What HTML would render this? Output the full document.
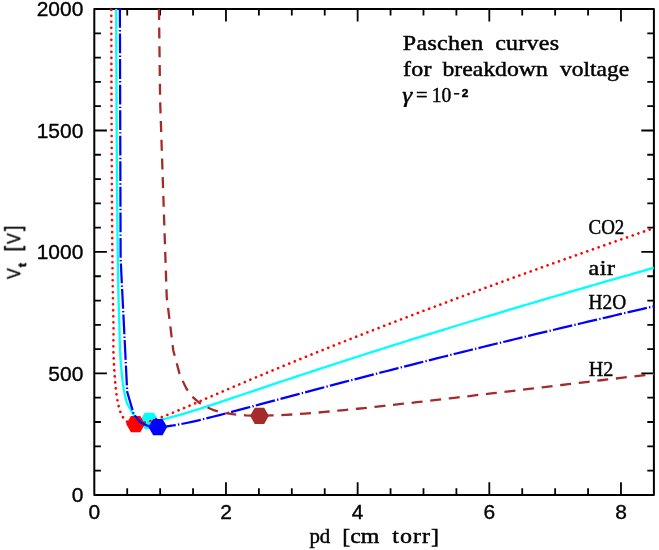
<!DOCTYPE html>
<html><head><meta charset="utf-8"><title>Paschen curves</title>
<style>html,body{margin:0;padding:0;background:#fff}svg{display:block}</style></head>
<body><svg width="659" height="550" viewBox="0 0 659 550">
<rect width="659" height="550" fill="#fff"/>
<defs><clipPath id="c"><rect x="93.3" y="8.0" width="561.6" height="487.9"/></clipPath></defs>
<rect x="94.3" y="9.0" width="559.60" height="485.90" fill="none" stroke="#000" stroke-width="2.0" stroke-linejoin="round"/>
<path d="M127.22,494.9 v-6.6 M127.22,9.0 v6.6 M160.14,494.9 v-6.6 M160.14,9.0 v6.6 M193.05,494.9 v-6.6 M193.05,9.0 v6.6 M225.97,494.9 v-12.6 M225.97,9.0 v12.6 M258.89,494.9 v-6.6 M258.89,9.0 v6.6 M291.81,494.9 v-6.6 M291.81,9.0 v6.6 M324.72,494.9 v-6.6 M324.72,9.0 v6.6 M357.64,494.9 v-12.6 M357.64,9.0 v12.6 M390.56,494.9 v-6.6 M390.56,9.0 v6.6 M423.48,494.9 v-6.6 M423.48,9.0 v6.6 M456.39,494.9 v-6.6 M456.39,9.0 v6.6 M489.31,494.9 v-12.6 M489.31,9.0 v12.6 M522.23,494.9 v-6.6 M522.23,9.0 v6.6 M555.15,494.9 v-6.6 M555.15,9.0 v6.6 M588.06,494.9 v-6.6 M588.06,9.0 v6.6 M620.98,494.9 v-12.6 M620.98,9.0 v12.6 M94.3,470.60 h6.6 M653.9,470.60 h-6.6 M94.3,446.31 h6.6 M653.9,446.31 h-6.6 M94.3,422.01 h6.6 M653.9,422.01 h-6.6 M94.3,397.72 h6.6 M653.9,397.72 h-6.6 M94.3,373.42 h12.6 M653.9,373.42 h-12.6 M94.3,349.13 h6.6 M653.9,349.13 h-6.6 M94.3,324.84 h6.6 M653.9,324.84 h-6.6 M94.3,300.54 h6.6 M653.9,300.54 h-6.6 M94.3,276.25 h6.6 M653.9,276.25 h-6.6 M94.3,251.95 h12.6 M653.9,251.95 h-12.6 M94.3,227.65 h6.6 M653.9,227.65 h-6.6 M94.3,203.36 h6.6 M653.9,203.36 h-6.6 M94.3,179.06 h6.6 M653.9,179.06 h-6.6 M94.3,154.77 h6.6 M653.9,154.77 h-6.6 M94.3,130.48 h12.6 M653.9,130.48 h-12.6 M94.3,106.18 h6.6 M653.9,106.18 h-6.6 M94.3,81.88 h6.6 M653.9,81.88 h-6.6 M94.3,57.59 h6.6 M653.9,57.59 h-6.6 M94.3,33.30 h6.6 M653.9,33.30 h-6.6" stroke="#000" stroke-width="1.8" fill="none"/>
<g clip-path="url(#c)" fill="none" stroke-linejoin="round">
<path d="M116.20,9.00 L116.23,18.95 L116.26,28.46 L116.29,37.57 L116.31,46.29 L116.34,54.65 L116.37,62.67 L116.40,70.38 L116.43,77.78 L116.46,84.91 L116.49,91.76 L116.51,98.37 L116.54,104.74 L116.57,110.88 L116.60,116.80 L116.63,122.53 L116.66,128.06 L116.69,133.41 L116.71,138.58 L116.74,143.59 L116.77,148.44 L116.80,153.14 L116.83,157.70 L116.86,162.12 L116.88,166.40 L116.91,170.57 L116.94,174.61 L116.97,178.54 L117.00,182.35 L117.03,186.06 L117.06,189.67 L117.08,193.19 L117.11,196.61 L117.14,199.93 L117.17,203.18 L117.20,206.34 L117.23,209.42 L117.26,212.42 L117.28,215.35 L117.31,218.21 L117.34,221.00 L117.37,223.72 L117.40,226.38 L117.43,228.98 L117.46,231.52 L117.48,234.00 L117.51,236.42 L117.54,238.79 L117.57,241.11 L117.60,243.38 L117.63,245.60 L117.66,247.77 L117.68,249.90 L117.71,251.98 L117.74,254.02 L117.77,256.01 L117.80,257.97 L117.83,259.89 L117.86,261.77 L117.88,263.61 L117.91,265.42 L117.94,267.19 L117.97,268.93 L118.00,270.63 L118.03,272.30 L118.06,273.95 L118.08,275.56 L118.11,277.14 L118.14,278.69 L118.17,280.22 L118.20,281.72 L118.23,283.19 L118.25,284.64 L118.28,286.06 L118.31,287.46 L118.34,288.83 L118.37,290.18 L118.40,291.51 L118.43,292.81 L118.45,294.09 L118.48,295.36 L118.51,296.60 L118.54,297.82 L118.57,299.02 L118.60,300.21 L118.63,301.37 L118.65,302.52 L118.68,303.65 L118.71,304.76 L118.74,305.85 L118.77,306.93 L118.80,307.99 L118.83,309.04 L118.85,310.07 L118.88,311.08 L118.91,312.08 L118.94,313.07 L118.97,314.04 L119.00,315.00 L119.03,315.94 L119.05,316.87 L119.08,317.79 L119.11,318.69 L119.14,319.59 L119.17,320.46 L119.20,321.33 L119.23,322.19 L119.25,323.03 L119.28,323.87 L119.31,324.69 L119.34,325.50 L119.37,326.30 L119.40,327.09 L119.43,327.87 L119.45,328.64 L119.48,329.40 L119.50,330.15 L119.51,330.89 L119.53,331.62 L119.54,332.34 L119.56,333.05 L119.57,333.75 L119.58,334.45 L119.60,335.14 L119.61,335.81 L119.63,336.48 L119.64,337.15 L119.66,337.80 L119.67,338.45 L119.69,339.09 L119.70,339.72 L119.72,340.34 L119.74,340.96 L119.75,341.57 L119.77,342.17 L119.78,342.76 L119.80,343.35 L119.82,343.93 L119.83,344.51 L119.85,345.08 L119.87,345.64 L119.88,346.20 L119.90,346.74 L119.92,347.29 L119.94,347.83 L119.95,348.36 L119.97,348.89 L120.00,349.41 L120.02,349.92 L120.05,350.43 L120.08,350.93 L120.11,351.43 L120.14,351.93 L120.17,352.41 L120.20,352.90 L120.22,353.38 L120.25,353.85 L120.28,354.32 L120.31,354.78 L120.34,355.24 L120.37,355.69 L120.40,356.14 L120.42,356.59 L120.45,357.03 L120.48,357.47 L120.51,357.90 L120.54,358.33 L120.57,358.75 L120.60,359.17 L120.62,359.58 L120.65,360.00 L120.68,360.40 L120.71,360.81 L120.74,361.21 L120.77,361.60 L120.80,361.99 L120.82,362.38 L120.85,362.77 L120.88,363.15 L120.91,363.52 L120.94,363.90 L120.97,364.27 L120.99,364.64 L121.02,365.00 L121.05,365.36 L121.08,365.72 L121.11,366.07 L121.14,366.42 L121.17,366.77 L121.19,367.11 L121.22,367.45 L121.25,367.79 L121.28,368.13 L121.31,368.46 L121.34,368.79 L121.37,369.12 L121.39,369.44 L121.42,369.76 L121.45,370.08 L121.48,370.39 L121.51,370.71 L121.54,371.02 L121.57,371.32 L121.59,371.63 L121.62,371.93 L121.65,372.23 L121.68,372.53 L121.71,372.82 L121.74,373.11 L121.77,373.40 L121.79,373.69 L121.82,373.98 L121.85,374.26 L121.88,374.54 L121.91,374.82 L121.94,375.09 L121.97,375.36 L121.99,375.64 L122.02,375.90 L122.05,376.17 L122.08,376.44 L122.11,376.70 L122.14,376.96 L122.17,377.22 L122.19,377.47 L122.22,377.73 L122.25,377.98 L122.28,378.23 L122.31,378.48 L122.34,378.73 L122.37,378.97 L122.39,379.21 L122.42,379.45 L122.45,379.69 L122.48,379.93 L122.51,380.17 L122.54,380.40 L122.56,380.63 L122.59,380.86 L122.62,381.09 L122.65,381.32 L122.68,381.54 L122.71,381.77 L122.74,381.99 L122.76,382.21 L122.79,382.43 L122.82,382.64 L122.85,382.86 L122.88,383.07 L122.91,383.28 L122.94,383.49 L122.96,383.70 L122.99,383.91 L123.02,384.12 L123.05,384.32 L123.08,384.52 L123.11,384.72 L123.14,384.92 L123.16,385.12 L123.19,385.32 L123.22,385.52 L123.25,385.71 L123.28,385.90 L123.31,386.10 L123.34,386.29 L123.36,386.48 L123.39,386.66 L123.42,386.85 L123.45,387.03 L123.48,387.22 L123.51,387.40 L123.54,387.58 L123.56,387.76 L123.59,387.94 L123.62,388.12 L123.65,388.30 L123.68,388.47 L123.71,388.65 L123.74,388.82 L123.76,388.99 L123.79,389.16 L123.82,389.33 L123.85,389.50 L123.88,389.67 L123.91,389.83 L123.94,390.00 L123.96,390.16 L123.99,390.32 L124.02,390.49 L124.05,390.65 L124.08,390.81 L124.11,390.96 L124.13,391.12 L124.16,391.28 L124.19,391.43 L124.22,391.59 L124.25,391.74 L124.28,391.90 L124.31,392.05 L124.33,392.20 L124.36,392.35 L124.39,392.50 L124.42,392.64 L124.45,392.79 L124.48,392.94 L124.51,393.08 L124.53,393.23 L124.56,393.37 L124.59,393.51 L124.62,393.65 L124.65,393.79 L124.68,393.93 L124.71,394.07 L124.73,394.21 L124.76,394.35 L124.79,394.48 L124.82,394.62 L124.85,394.75 L124.88,394.89 L124.91,395.02 L124.93,395.15 L124.96,395.28 L124.99,395.41 L125.02,395.54 L125.05,395.67 L125.08,395.80 L125.11,395.93 L125.13,396.06 L125.16,396.18 L125.19,396.31 L125.22,396.43 L125.25,396.55 L125.28,396.68 L125.31,396.80 L125.33,396.92 L125.36,397.04 L125.39,397.16 L125.42,397.28 L125.45,397.40 L125.48,397.52 L125.50,397.63 L125.53,397.75 L125.56,397.87 L125.59,397.98 L125.62,398.10 L125.65,398.21 L125.68,398.32 L125.70,398.44 L125.73,398.55 L125.76,398.66 L125.79,398.77 L125.82,398.88 L125.85,398.99 L125.88,399.10 L125.90,399.21 L125.93,399.31 L125.96,399.42 L125.99,399.53 L126.02,399.63 L126.05,399.74 L126.08,399.84 L126.10,399.95 L126.13,400.05 L126.16,400.15 L126.19,400.26 L126.22,400.36 L126.25,400.46 L126.28,400.56 L126.30,400.66 L126.33,400.76 L126.36,400.86 L126.39,400.96 L126.42,401.05 L126.45,401.15 L126.48,401.25 L126.50,401.34 L126.53,401.44 L126.56,401.53 L126.59,401.63 L126.62,401.72 L126.65,401.82 L126.68,401.91 L126.70,402.00 L126.73,402.09 L126.76,402.19 L126.79,402.28 L126.82,402.37 L126.85,402.46 L126.88,402.55 L126.90,402.64 L126.93,402.73 L126.96,402.81 L126.99,402.90 L127.02,402.99 L127.05,403.08 L127.07,403.16 L127.10,403.25 L127.13,403.33 L127.16,403.42 L127.19,403.50 L127.22,403.59 L133.80,415.24 L140.38,419.39 L146.97,420.66 L153.55,420.54 L160.14,419.67 L166.72,418.34 L173.30,416.72 L179.89,414.90 L186.47,412.96 L193.05,410.94 L199.64,408.84 L206.22,406.71 L212.80,404.54 L219.39,402.35 L225.97,400.15 L232.55,397.94 L239.14,395.73 L245.72,393.51 L252.30,391.29 L258.89,389.08 L265.47,386.87 L272.06,384.66 L278.64,382.46 L285.22,380.27 L291.81,378.08 L298.39,375.90 L304.97,373.73 L311.56,371.56 L318.14,369.40 L324.72,367.25 L331.31,365.11 L337.89,362.97 L344.47,360.85 L351.06,358.73 L357.64,356.61 L364.22,354.51 L370.81,352.41 L377.39,350.32 L383.98,348.23 L390.56,346.16 L397.14,344.09 L403.73,342.02 L410.31,339.97 L416.89,337.92 L423.48,335.88 L430.06,333.84 L436.64,331.81 L443.23,329.78 L449.81,327.77 L456.39,325.76 L462.98,323.75 L469.56,321.75 L476.14,319.76 L482.73,317.77 L489.31,315.78 L495.90,313.81 L502.48,311.83 L509.06,309.87 L515.65,307.91 L522.23,305.95 L528.81,304.00 L535.40,302.05 L541.98,300.11 L548.56,298.17 L555.15,296.24 L561.73,294.31 L568.31,292.39 L574.90,290.47 L581.48,288.56 L588.06,286.65 L594.65,284.74 L601.23,282.84 L607.82,280.95 L614.40,279.05 L620.98,277.17 L627.57,275.28 L634.15,273.40 L640.73,271.52 L647.32,269.65 L653.90,267.78" stroke="#00ffff" stroke-width="2.3"/>
<polygon points="158.76,420.94 154.06,429.08 144.66,429.08 139.96,420.94 144.66,412.79 154.06,412.79" fill="#00ffff" stroke="none"/>
<path d="M111.28,9.00 L111.32,29.12 L111.37,47.50 L111.41,64.35 L111.45,79.86 L111.49,94.18 L111.53,107.44 L111.58,119.76 L111.62,131.23 L111.66,141.94 L111.70,151.96 L111.74,161.35 L111.79,170.18 L111.83,178.48 L111.87,186.31 L111.91,193.71 L111.96,200.70 L112.00,207.33 L112.04,213.62 L112.08,219.59 L112.12,225.27 L112.17,230.68 L112.21,235.84 L112.25,240.76 L112.29,245.47 L112.33,249.97 L112.38,254.27 L112.42,258.40 L112.46,262.35 L112.50,266.15 L112.54,269.80 L112.59,273.31 L112.63,276.68 L112.67,279.93 L112.71,283.06 L112.75,286.08 L112.80,288.99 L112.84,291.80 L112.88,294.51 L112.92,297.13 L112.97,299.67 L113.01,302.12 L113.05,304.49 L113.09,306.79 L113.13,309.02 L113.18,311.18 L113.22,313.28 L113.26,315.31 L113.30,317.28 L113.34,319.19 L113.39,321.06 L113.43,322.86 L113.47,324.62 L113.51,326.33 L113.55,328.00 L113.60,329.62 L113.57,331.19 L113.54,332.73 L113.51,334.22 L113.49,335.68 L113.46,337.10 L113.44,338.49 L113.42,339.84 L113.40,341.16 L113.38,342.45 L113.37,343.70 L113.35,344.93 L113.34,346.13 L113.33,347.30 L113.32,348.45 L113.33,349.56 L113.37,350.66 L113.41,351.73 L113.45,352.78 L113.50,353.80 L113.54,354.80 L113.58,355.78 L113.62,356.74 L113.66,357.68 L113.71,358.60 L113.75,359.51 L113.79,360.39 L113.83,361.26 L113.88,362.11 L113.92,362.94 L113.96,363.76 L114.00,364.56 L114.04,365.34 L114.09,366.11 L114.13,366.87 L114.17,367.61 L114.21,368.34 L114.25,369.05 L114.30,369.75 L114.34,370.44 L114.38,371.12 L114.42,371.78 L114.46,372.44 L114.51,373.08 L114.55,373.71 L114.59,374.33 L114.63,374.94 L114.67,375.54 L114.72,376.12 L114.76,376.70 L114.80,377.27 L114.84,377.83 L114.89,378.38 L114.93,378.92 L114.97,379.46 L115.01,379.98 L115.05,380.50 L115.10,381.00 L115.14,381.50 L115.18,382.00 L115.22,382.48 L115.26,382.96 L115.31,383.43 L115.35,383.89 L115.39,384.34 L115.43,384.79 L115.47,385.23 L115.52,385.67 L115.56,386.10 L115.60,386.52 L115.64,386.94 L115.68,387.35 L115.73,387.75 L115.77,388.15 L115.81,388.54 L115.85,388.93 L115.90,389.31 L115.94,389.69 L115.98,390.06 L116.02,390.43 L116.06,390.79 L116.11,391.15 L116.15,391.50 L116.19,391.84 L116.23,392.19 L116.27,392.52 L116.32,392.86 L116.36,393.18 L116.40,393.51 L116.44,393.83 L116.48,394.14 L116.53,394.46 L116.57,394.76 L116.61,395.07 L116.65,395.37 L116.70,395.66 L116.74,395.96 L116.78,396.24 L116.82,396.53 L116.86,396.81 L116.91,397.09 L116.95,397.36 L116.99,397.63 L117.03,397.90 L117.07,398.17 L117.12,398.43 L117.16,398.68 L117.20,398.94 L117.24,399.19 L117.28,399.44 L117.33,399.69 L117.37,399.93 L117.41,400.17 L117.45,400.41 L117.49,400.64 L117.54,400.87 L117.58,401.10 L117.62,401.33 L117.66,401.55 L117.71,401.77 L117.75,401.99 L117.79,402.21 L117.83,402.42 L117.87,402.63 L117.92,402.84 L117.96,403.05 L118.00,403.25 L118.04,403.46 L118.08,403.66 L118.13,403.85 L118.17,404.05 L118.21,404.24 L118.25,404.43 L118.29,404.62 L118.34,404.81 L118.38,404.99 L118.42,405.18 L118.46,405.36 L118.51,405.54 L118.55,405.72 L118.59,405.89 L118.63,406.06 L118.67,406.24 L118.72,406.41 L118.76,406.57 L118.80,406.74 L118.84,406.90 L118.88,407.07 L118.93,407.23 L118.97,407.39 L119.01,407.55 L119.05,407.70 L119.09,407.86 L119.14,408.01 L119.18,408.16 L119.22,408.31 L119.26,408.46 L119.30,408.61 L119.35,408.75 L119.39,408.90 L119.43,409.04 L119.47,409.18 L119.52,409.32 L119.56,409.46 L119.60,409.60 L119.64,409.73 L119.68,409.87 L119.73,410.00 L119.77,410.13 L119.81,410.26 L119.85,410.39 L119.89,410.52 L119.94,410.64 L119.98,410.77 L120.02,410.89 L120.06,411.02 L120.10,411.14 L120.15,411.26 L120.19,411.38 L120.23,411.50 L120.27,411.62 L120.31,411.73 L120.36,411.85 L120.40,411.96 L120.44,412.07 L120.48,412.19 L120.53,412.30 L120.57,412.41 L120.61,412.51 L120.65,412.62 L120.69,412.73 L120.74,412.83 L120.78,412.94 L120.82,413.04 L120.86,413.15 L120.90,413.25 L120.95,413.35 L120.99,413.45 L121.03,413.55 L121.07,413.65 L121.11,413.74 L121.16,413.84 L121.20,413.93 L121.24,414.03 L121.28,414.12 L121.33,414.22 L121.37,414.31 L121.41,414.40 L121.45,414.49 L121.49,414.58 L121.54,414.67 L121.58,414.76 L121.62,414.84 L121.66,414.93 L121.70,415.02 L121.75,415.10 L121.79,415.18 L121.83,415.27 L121.87,415.35 L121.91,415.43 L121.96,415.51 L122.00,415.59 L122.04,415.67 L122.08,415.75 L122.12,415.83 L122.17,415.91 L122.21,415.99 L122.25,416.06 L122.29,416.14 L122.34,416.21 L122.38,416.29 L122.42,416.36 L122.46,416.43 L122.50,416.51 L122.55,416.58 L122.59,416.65 L122.63,416.72 L122.67,416.79 L122.71,416.86 L122.76,416.93 L122.80,417.00 L122.84,417.06 L122.88,417.13 L122.92,417.20 L122.97,417.26 L123.01,417.33 L123.05,417.39 L123.09,417.46 L123.13,417.52 L123.18,417.58 L123.22,417.65 L123.26,417.71 L123.30,417.77 L123.35,417.83 L123.39,417.89 L123.43,417.95 L123.47,418.01 L123.51,418.07 L123.56,418.13 L123.60,418.19 L123.64,418.24 L123.68,418.30 L123.72,418.36 L123.77,418.41 L123.81,418.47 L123.85,418.52 L123.89,418.58 L123.93,418.63 L123.98,418.68 L124.02,418.74 L124.06,418.79 L124.10,418.84 L124.15,418.89 L124.19,418.95 L124.23,419.00 L124.27,419.05 L124.31,419.10 L124.36,419.15 L124.40,419.20 L124.44,419.24 L124.48,419.29 L124.52,419.34 L124.57,419.39 L124.61,419.44 L124.65,419.48 L124.69,419.53 L124.73,419.57 L124.78,419.62 L124.82,419.67 L124.86,419.71 L124.90,419.75 L124.94,419.80 L124.99,419.84 L125.03,419.89 L125.07,419.93 L125.11,419.97 L125.16,420.01 L125.20,420.05 L125.24,420.10 L125.28,420.14 L125.32,420.18 L125.37,420.22 L125.41,420.26 L125.45,420.30 L125.49,420.34 L125.53,420.38 L125.58,420.42 L125.62,420.45 L125.66,420.49 L125.70,420.53 L125.74,420.57 L125.79,420.60 L125.83,420.64 L125.87,420.68 L125.91,420.71 L125.95,420.75 L126.00,420.79 L126.04,420.82 L126.08,420.86 L126.12,420.89 L126.17,420.92 L126.21,420.96 L126.25,420.99 L126.29,421.03 L126.33,421.06 L126.38,421.09 L126.42,421.12 L126.46,421.16 L126.50,421.19 L126.54,421.22 L126.59,421.25 L126.63,421.28 L126.67,421.31 L126.71,421.35 L126.75,421.38 L126.80,421.41 L126.84,421.44 L126.88,421.47 L126.92,421.49 L126.97,421.52 L127.01,421.55 L127.05,421.58 L127.09,421.61 L127.13,421.64 L127.18,421.67 L127.22,421.69 L133.80,423.81 L140.38,423.49 L146.97,422.05 L153.55,420.04 L160.14,417.69 L166.72,415.16 L173.30,412.50 L179.89,409.76 L186.47,406.98 L193.05,404.18 L199.64,401.35 L206.22,398.52 L212.80,395.69 L219.39,392.87 L225.97,390.05 L232.55,387.24 L239.14,384.44 L245.72,381.65 L252.30,378.87 L258.89,376.11 L265.47,373.36 L272.06,370.62 L278.64,367.90 L285.22,365.18 L291.81,362.49 L298.39,359.80 L304.97,357.12 L311.56,354.46 L318.14,351.81 L324.72,349.17 L331.31,346.55 L337.89,343.93 L344.47,341.33 L351.06,338.73 L357.64,336.15 L364.22,333.58 L370.81,331.02 L377.39,328.47 L383.98,325.92 L390.56,323.39 L397.14,320.87 L403.73,318.35 L410.31,315.85 L416.89,313.35 L423.48,310.86 L430.06,308.38 L436.64,305.91 L443.23,303.45 L449.81,300.99 L456.39,298.54 L462.98,296.10 L469.56,293.67 L476.14,291.24 L482.73,288.82 L489.31,286.41 L495.90,284.01 L502.48,281.61 L509.06,279.22 L515.65,276.83 L522.23,274.45 L528.81,272.08 L535.40,269.71 L541.98,267.35 L548.56,265.00 L555.15,262.65 L561.73,260.31 L568.31,257.97 L574.90,255.64 L581.48,253.31 L588.06,250.99 L594.65,248.68 L601.23,246.37 L607.82,244.06 L614.40,241.76 L620.98,239.47 L627.57,237.18 L634.15,234.89 L640.73,232.61 L647.32,230.34 L653.90,228.07" stroke="#ff0000" stroke-width="2.65" stroke-dasharray="0.01 6.0" stroke-dashoffset="-0.8" stroke-linecap="round"/>
<polygon points="145.00,424.08 140.30,432.23 130.90,432.23 126.20,424.08 130.90,415.94 140.30,415.94" fill="#ff0000" stroke="none"/>
<path d="M119.88,8.00 L120.63,258.71 L127.22,392.03 L133.80,414.35 L140.38,422.26 L146.97,425.53 L153.55,426.74 L160.14,426.87 L166.72,426.37 L173.30,425.48 L179.89,424.33 L186.47,423.01 L193.05,421.56 L199.64,420.03 L206.22,418.43 L212.80,416.78 L219.39,415.10 L225.97,413.39 L232.55,411.66 L239.14,409.92 L245.72,408.17 L252.30,406.42 L258.89,404.66 L265.47,402.90 L272.06,401.14 L278.64,399.38 L285.22,397.62 L291.81,395.86 L298.39,394.11 L304.97,392.36 L311.56,390.62 L318.14,388.88 L324.72,387.14 L331.31,385.41 L337.89,383.68 L344.47,381.96 L351.06,380.25 L357.64,378.54 L364.22,376.83 L370.81,375.13 L377.39,373.44 L383.98,371.75 L390.56,370.06 L397.14,368.38 L403.73,366.71 L410.31,365.04 L416.89,363.38 L423.48,361.72 L430.06,360.06 L436.64,358.41 L443.23,356.77 L449.81,355.13 L456.39,353.49 L462.98,351.86 L469.56,350.24 L476.14,348.62 L482.73,347.00 L489.31,345.39 L495.90,343.78 L502.48,342.17 L509.06,340.57 L515.65,338.98 L522.23,337.39 L528.81,335.80 L535.40,334.21 L541.98,332.63 L548.56,331.06 L555.15,329.48 L561.73,327.92 L568.31,326.35 L574.90,324.79 L581.48,323.23 L588.06,321.68 L594.65,320.13 L601.23,318.58 L607.82,317.04 L614.40,315.50 L620.98,313.96 L627.57,312.42 L634.15,310.89 L640.73,309.37 L647.32,307.84 L653.90,306.32" stroke="#0000ff" stroke-width="2.25" stroke-dasharray="19.8 2.2 1.4 2.15"/>
<polygon points="167.23,427.11 162.53,435.25 153.13,435.25 148.43,427.11 153.13,418.97 162.53,418.97" fill="#0000ff" stroke="none"/>
<path d="M158.96,8.90 L160.14,100.60 L166.72,296.84 L173.30,350.48 L179.89,375.01 L186.47,388.76 L193.05,397.33 L199.64,403.04 L206.22,406.99 L212.80,409.78 L219.39,411.78 L225.97,413.21 L232.55,414.22 L239.14,414.90 L245.72,415.34 L252.30,415.58 L258.89,415.66 L265.47,415.61 L272.06,415.45 L278.64,415.21 L285.22,414.89 L291.81,414.52 L298.39,414.08 L304.97,413.61 L311.56,413.09 L318.14,412.54 L324.72,411.96 L331.31,411.36 L337.89,410.73 L344.47,410.09 L351.06,409.43 L357.64,408.75 L364.22,408.06 L370.81,407.35 L377.39,406.64 L383.98,405.92 L390.56,405.18 L397.14,404.45 L403.73,403.70 L410.31,402.95 L416.89,402.19 L423.48,401.43 L430.06,400.67 L436.64,399.90 L443.23,399.13 L449.81,398.35 L456.39,397.58 L462.98,396.80 L469.56,396.02 L476.14,395.23 L482.73,394.45 L489.31,393.66 L495.90,392.88 L502.48,392.09 L509.06,391.30 L515.65,390.51 L522.23,389.72 L528.81,388.94 L535.40,388.15 L541.98,387.36 L548.56,386.57 L555.15,385.78 L561.73,384.99 L568.31,384.20 L574.90,383.41 L581.48,382.62 L588.06,381.83 L594.65,381.04 L601.23,380.26 L607.82,379.47 L614.40,378.68 L620.98,377.90 L627.57,377.11 L634.15,376.33 L640.73,375.55 L647.32,374.76 L653.90,373.98" stroke="#a52a2a" stroke-width="2.3" stroke-dasharray="11.0 7.7"/>
<polygon points="268.88,415.86 264.18,424.00 254.78,424.00 250.08,415.86 254.78,407.72 264.18,407.72" fill="#a52a2a" stroke="none"/>
</g>
<g style="opacity:0.999" fill="#000" stroke="#000" stroke-width="0.45">
<text transform="translate(83.30,502.00) scale(1.075,1)" font-family="Liberation Sans, sans-serif" font-size="19.5" text-anchor="end" stroke-width="0.35">0</text>
<text transform="translate(83.30,380.52) scale(1.075,1)" font-family="Liberation Sans, sans-serif" font-size="19.5" text-anchor="end" stroke-width="0.35">500</text>
<text transform="translate(83.30,259.05) scale(1.075,1)" font-family="Liberation Sans, sans-serif" font-size="19.5" text-anchor="end" stroke-width="0.35">1000</text>
<text transform="translate(83.30,137.58) scale(1.075,1)" font-family="Liberation Sans, sans-serif" font-size="19.5" text-anchor="end" stroke-width="0.35">1500</text>
<text transform="translate(83.30,16.10) scale(1.075,1)" font-family="Liberation Sans, sans-serif" font-size="19.5" text-anchor="end" stroke-width="0.35">2000</text>
<text transform="translate(94.30,518.70) scale(1.075,1)" font-family="Liberation Sans, sans-serif" font-size="19.5" text-anchor="middle" stroke-width="0.35">0</text>
<text transform="translate(225.97,518.70) scale(1.075,1)" font-family="Liberation Sans, sans-serif" font-size="19.5" text-anchor="middle" stroke-width="0.35">2</text>
<text transform="translate(357.64,518.70) scale(1.075,1)" font-family="Liberation Sans, sans-serif" font-size="19.5" text-anchor="middle" stroke-width="0.35">4</text>
<text transform="translate(489.31,518.70) scale(1.075,1)" font-family="Liberation Sans, sans-serif" font-size="19.5" text-anchor="middle" stroke-width="0.35">6</text>
<text transform="translate(620.98,518.70) scale(1.075,1)" font-family="Liberation Sans, sans-serif" font-size="19.5" text-anchor="middle" stroke-width="0.35">8</text>
<text transform="translate(402.8,49.5) scale(1.2,1)" font-family="Liberation Serif, serif" font-size="20" font-weight="normal" letter-spacing="0.264">Paschen</text>
<text transform="translate(495.2,49.5) scale(1.2,1)" font-family="Liberation Serif, serif" font-size="20" font-weight="normal" letter-spacing="0.217">curves</text>
<text transform="translate(402.9,76.2) scale(1.2,1)" font-family="Liberation Serif, serif" font-size="20" font-weight="normal" letter-spacing="0.25">for</text>
<text transform="translate(442.4,76.2) scale(1.1865,1)" font-family="Liberation Serif, serif" font-size="20" font-weight="normal">breakdown</text>
<text transform="translate(560.0,76.2) scale(1.1746,1)" font-family="Liberation Serif, serif" font-size="20" font-weight="normal">voltage</text>
<text transform="translate(309.4,543.1) scale(1.045,1)" font-family="Liberation Serif, serif" font-size="20" font-weight="normal">pd</text>
<text transform="translate(342.31,543.1) scale(1.1935,1)" font-family="Liberation Serif, serif" font-size="20" font-weight="normal">[cm</text>
<text transform="translate(392.2,543.1) scale(1.2,1)" font-family="Liberation Serif, serif" font-size="20" font-weight="normal" letter-spacing="0.875">torr]</text>
<text transform="translate(588.5,234.0) scale(0.9493,1)" font-family="Liberation Serif, serif" font-size="20" font-weight="normal">CO2</text>
<text transform="translate(588.5,275.4) scale(1.2,1)" font-family="Liberation Serif, serif" font-size="20" font-weight="normal" letter-spacing="0.542">air</text>
<text transform="translate(588.5,309.3) scale(0.9678,1)" font-family="Liberation Serif, serif" font-size="20" font-weight="normal">H2O</text>
<text transform="translate(588.65,375.7) scale(1.0063,1)" font-family="Liberation Serif, serif" font-size="20" font-weight="normal">H2</text>
<text transform="translate(402.2,101.7) scale(1.2655,1)" font-family="Liberation Serif, serif" font-size="20" font-style="italic">γ</text>
<text transform="translate(416.0,101.7) scale(1.0246,1)" font-family="Liberation Serif, serif" font-size="20" font-weight="normal">=</text>
<text transform="translate(431.78,101.7) scale(0.9809,1)" font-family="Liberation Serif, serif" font-size="20" font-weight="normal">10</text>
<text transform="translate(461.7,96.6) scale(1.1486,1)" font-family="Liberation Sans, serif" font-size="10.4" font-weight="bold">2</text>
<path d="M454,93.8 H459.3" stroke-width="1.5" fill="none"/>
<g transform="translate(20.2,278.7) rotate(-90)" font-family="Liberation Sans, sans-serif">
<text transform="translate(-0.3,0) scale(0.85,1)" font-size="18.8">V</text>
<text transform="translate(11.6,5.7) scale(1.2,1)" font-size="10.5" font-weight="bold">t</text>
<text transform="translate(27.3,0) scale(0.9,1)" font-size="22">[</text>
<text transform="translate(34.8,0) scale(0.85,1)" font-size="18.8">V</text>
<text transform="translate(47.8,0) scale(0.9,1)" font-size="22">]</text>
</g>
</g>
</svg></body></html>
